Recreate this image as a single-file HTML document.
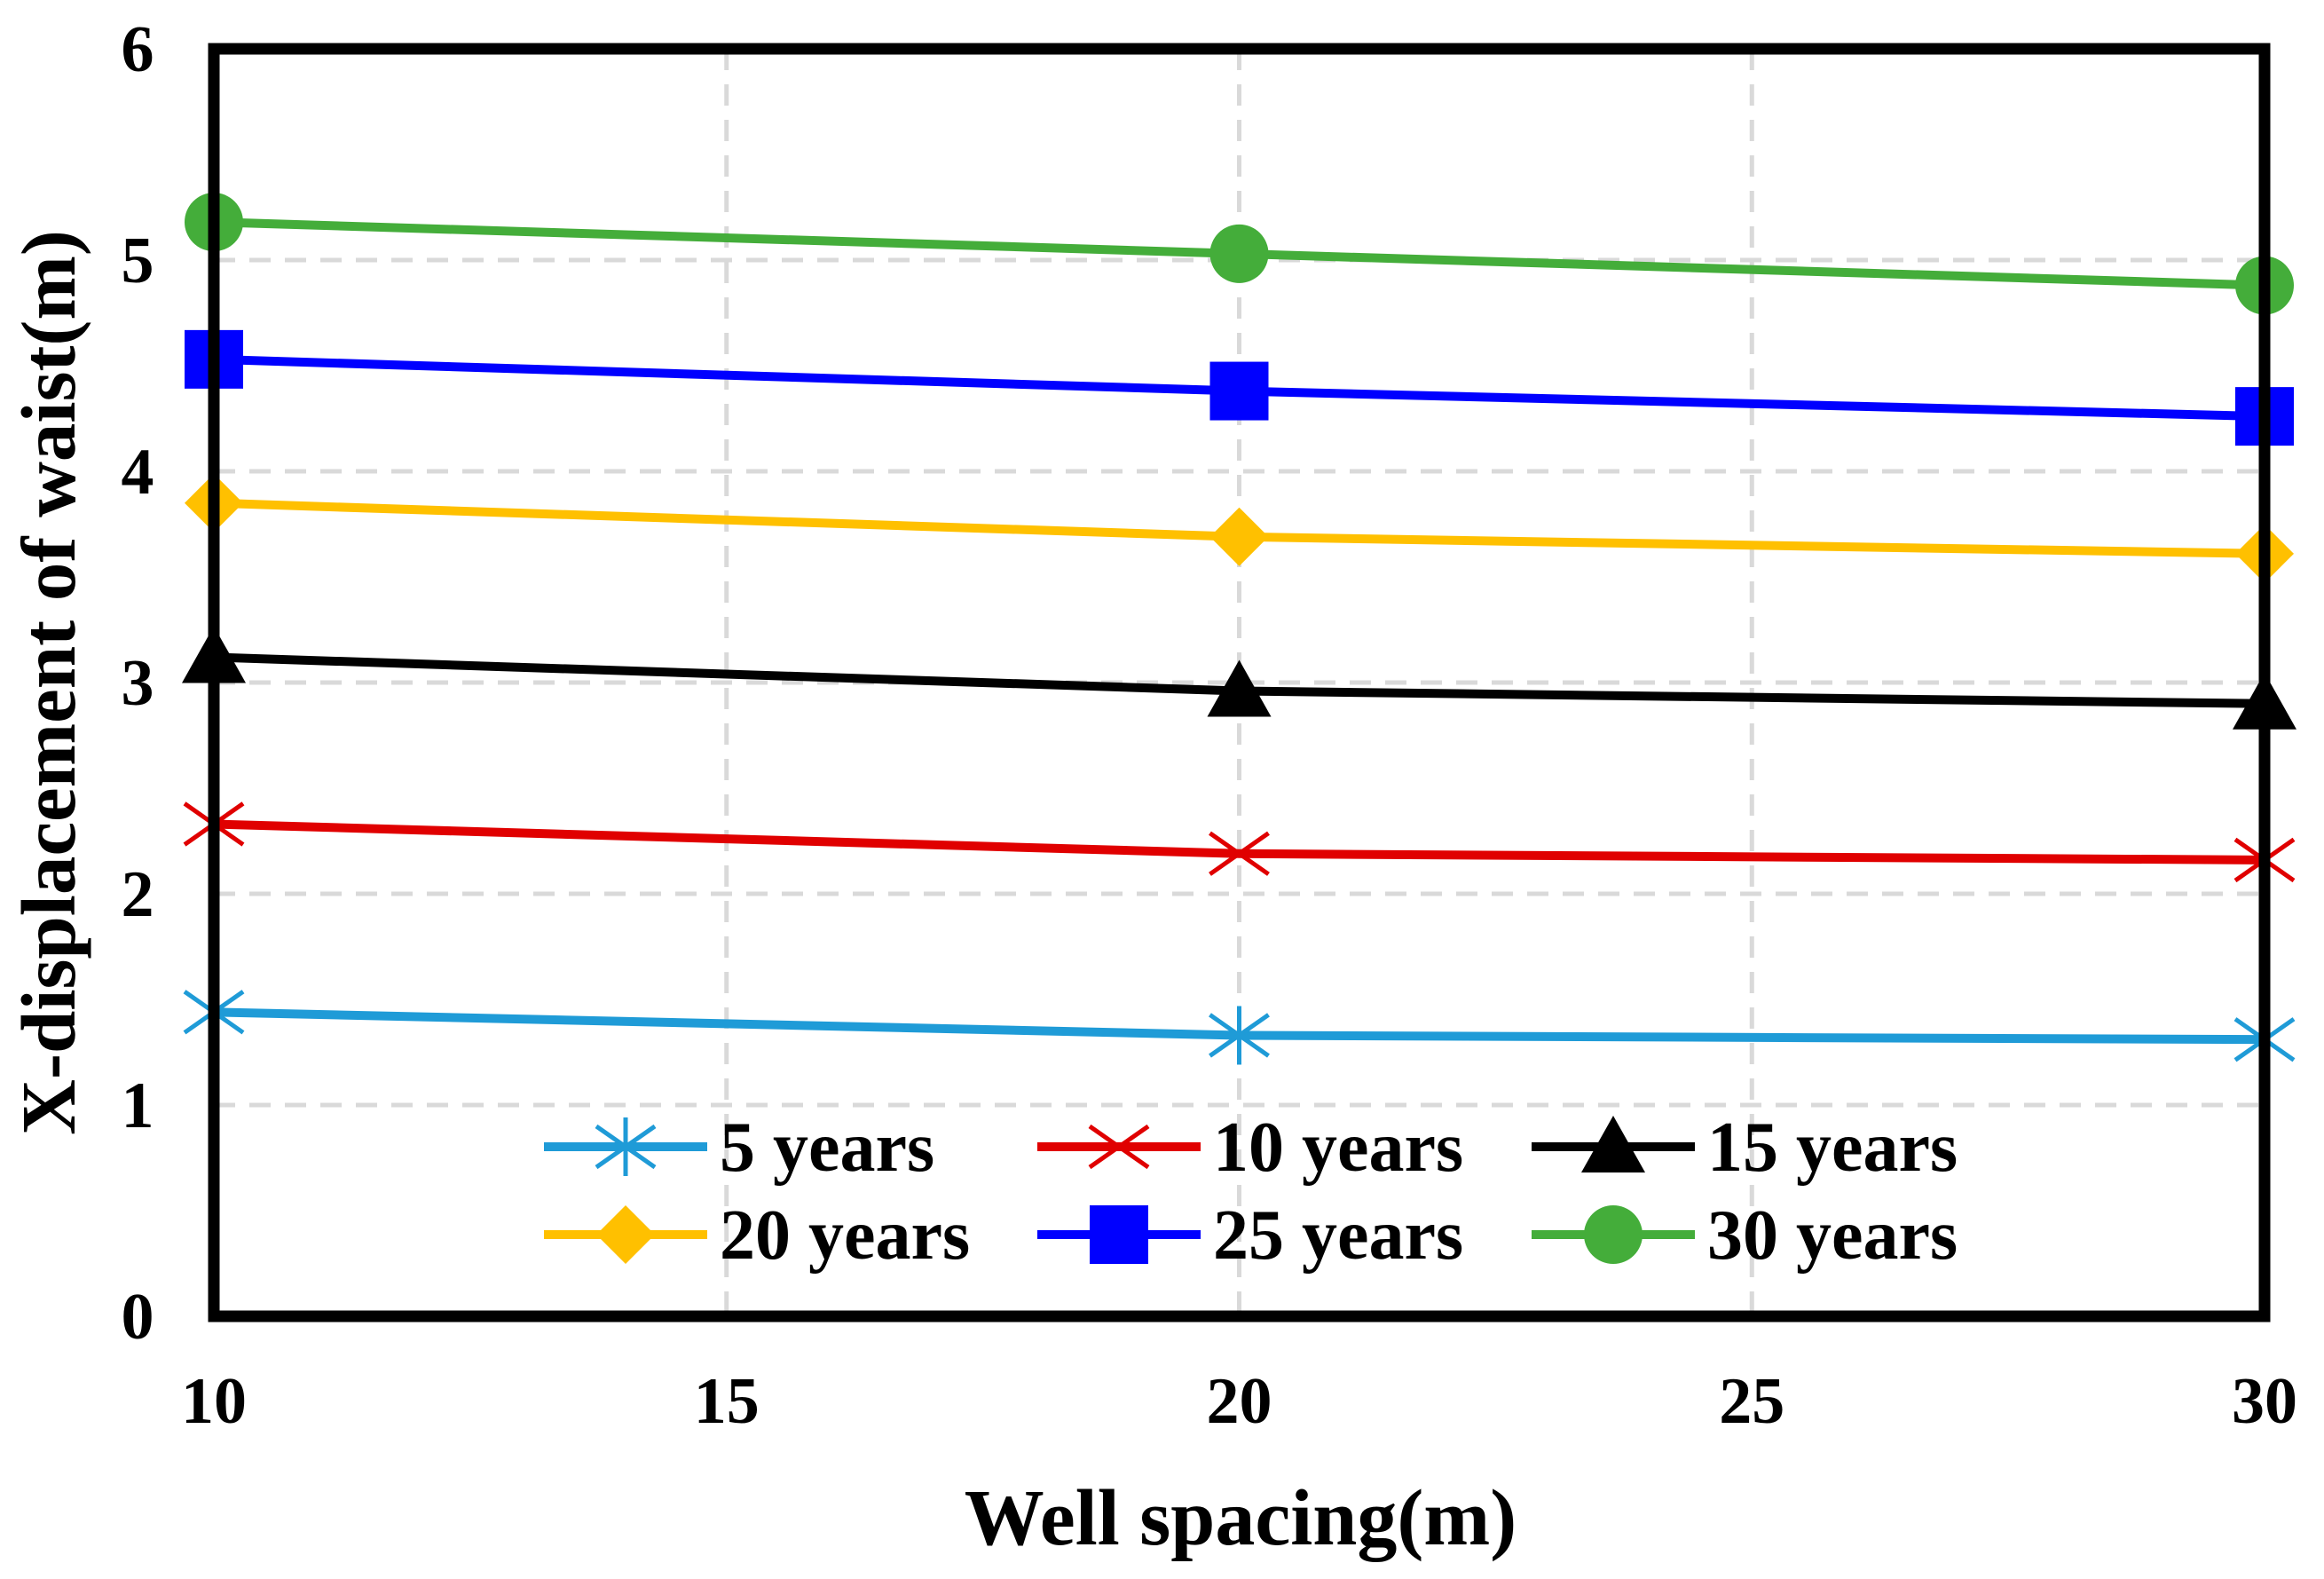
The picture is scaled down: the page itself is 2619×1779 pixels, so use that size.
<!DOCTYPE html>
<html><head><meta charset="utf-8"><style>
html,body{margin:0;padding:0;background:#fff;}
svg{display:block;font-family:"Liberation Serif",serif;font-weight:bold;}
</style></head><body>
<svg id="chart" width="2619" height="1779" viewBox="0 0 2619 1779" xmlns="http://www.w3.org/2000/svg">
<g id="grid"></g>
<g id="series"></g>
<rect x="241" y="55" width="2311" height="1428" fill="none" stroke="#000" stroke-width="13"/>
<g id="ticks"></g>
<text x="1398" y="1740" font-size="90" text-anchor="middle">Well spacing(m)</text>
<text transform="translate(84,769) rotate(-90)" font-size="87" text-anchor="middle">X-displacement of waist(m)</text>
<g id="legend"></g>
</svg>
<script>
const categories = [10, 20, 30];
const xTicks = [10, 15, 20, 25, 30];
const yTicks = [0, 1, 2, 3, 4, 5, 6];
const seriesNames = ["5 years", "10 years", "15 years", "20 years", "25 years", "30 years"];
const s5 = [1.44, 1.33, 1.31];
const s10 = [2.33, 2.19, 2.16];
const s15 = [3.12, 2.96, 2.90];
const s20 = [3.85, 3.69, 3.61];
const s25 = [4.53, 4.38, 4.26];
const s30 = [5.18, 5.03, 4.88];
const seriesValues = [s5, s10, s15, s20, s25, s30];
const colors = ["#1f9bd7", "#e00000", "#000000", "#ffc000", "#0000ff", "#44ad3a"];
const markers = ["star", "x", "tri", "diamond", "square", "circle"];

const NS = "http://www.w3.org/2000/svg";
const X0 = 241, X1 = 2552, Y0 = 1483, Y1 = 55;
function xs(v){ return X0 + (v - 10) / 20 * (X1 - X0); }
function ys(v){ return Y0 - v / 6 * (Y0 - Y1); }
function mk(tag, attrs, parent){ const e = document.createElementNS(NS, tag); for (const k in attrs) e.setAttribute(k, attrs[k]); parent.appendChild(e); return e; }

const grid = document.getElementById('grid');
yTicks.forEach(t => { if (t > 0 && t < 6) { const l = mk('line', {x1: X0, x2: X1, y1: ys(t), y2: ys(t), stroke: '#d9d9d9', 'stroke-width': 5, 'stroke-dasharray': '24 16'}, grid);

 } });
xTicks.forEach(t => { if (t > 10 && t < 30) { const l = mk('line', {x1: xs(t), x2: xs(t), y1: Y1, y2: Y0, stroke: '#d9d9d9', 'stroke-width': 5, 'stroke-dasharray': '24 16'}, grid);

 } });

const ticks = document.getElementById('ticks');
yTicks.forEach(t => { const e = mk('text', {x: 155, y: ys(t) + 25, 'font-size': 74, 'text-anchor': 'middle'}, ticks); e.textContent = t;

 });
xTicks.forEach(t => { const e = mk('text', {x: xs(t), y: 1603, 'font-size': 74, 'text-anchor': 'middle'}, ticks); e.textContent = t;

 });

function marker(type, cx, cy, color, g){
  const r = 33;
  let e;
  if (type === 'circle') e = mk('ellipse', {cx, cy, rx: r, ry: r, fill: color}, g);
  else if (type === 'square') e = mk('rect', {x: cx - r, y: cy - r, width: 2*r, height: 2*r, fill: color}, g);
  else if (type === 'diamond') e = mk('polygon', {points: `${cx},${cy-r} ${cx+r},${cy} ${cx},${cy+r} ${cx-r},${cy}`, fill: color}, g);
  else if (type === 'tri') e = mk('polygon', {points: `${cx},${cy-r-2} ${cx+r+3},${cy+r-4} ${cx-r-3},${cy+r-4}`, fill: color}, g);
  else if (type === 'x') e = mk('path', {d: `M${cx-r},${cy-r*0.7}L${cx+r},${cy+r*0.7}M${cx-r},${cy+r*0.7}L${cx+r},${cy-r*0.7}`, stroke: color, 'stroke-width': 5, fill: 'none'}, g);
  else e = mk('path', {d: `M${cx-r},${cy-r*0.7}L${cx+r},${cy+r*0.7}M${cx-r},${cy+r*0.7}L${cx+r},${cy-r*0.7}M${cx},${cy-r}L${cx},${cy+r}`, stroke: color, 'stroke-width': 5, fill: 'none'}, g);
  return e;
}

const sg = document.getElementById('series');
seriesValues.forEach((vals, i) => {
  const g = mk('g', {}, sg);
  
  
  const pts = vals.map((v, j) => xs(categories[j]) + ',' + ys(v)).join(' ');
  const pl = mk('polyline', {points: pts, fill: 'none', stroke: colors[i], 'stroke-width': 10}, g);
  
  
  vals.forEach((v, j) => { const m = marker(markers[i], xs(categories[j]), ys(v), colors[i], g);
    
     });
});

const lg = document.getElementById('legend');
const colX = [613, 1169, 1726];
const rowY = [1292, 1391];
seriesNames.forEach((n, i) => {
  const x = colX[i % 3], y = rowY[Math.floor(i / 3)];
  const g = mk('g', {}, lg);
  
  
  mk('line', {x1: x, x2: x + 184, y1: y, y2: y, stroke: colors[i], 'stroke-width': 10}, g);
  marker(markers[i], x + 92, y, colors[i], g);
  const t = mk('text', {x: x + 198, y: y + 27, 'font-size': 80}, g); t.textContent = n;
});
</script>
</body></html>
